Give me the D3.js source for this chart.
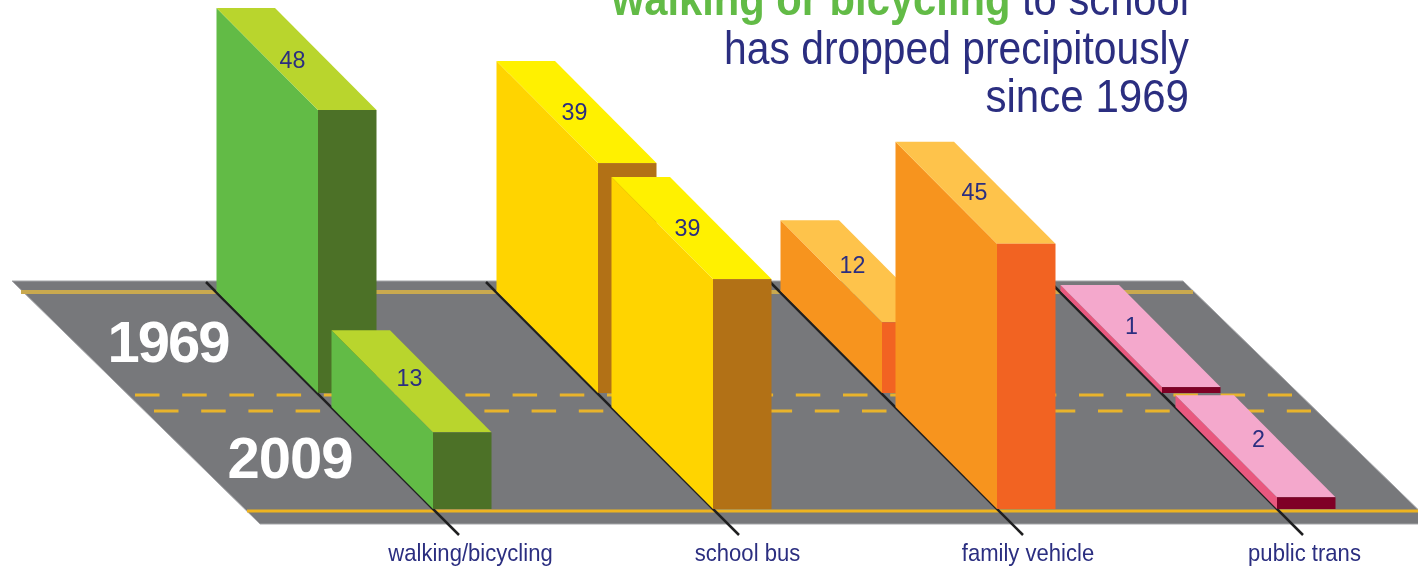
<!DOCTYPE html>
<html>
<head>
<meta charset="utf-8">
<script src="https://cdn.jsdelivr.net/npm/d3@7"></script>
<style>
  html, body { margin: 0; padding: 0; background: #fff; overflow: hidden; }
  svg { display: block; filter: blur(0.5px); }
</style>
</head>
<body>
<div id="chart"></div>
<script>
// Data
const categories = ['walking/bicycling', 'school bus', 'family vehicle', 'public trans'];
const years = ['1969', '2009'];
const values1969 = [48, 39, 12, 1];
const values2009 = [13, 39, 45, 2];

const titleLines = [
    [['walking or bicycling', 'green'], [' to school', 'navy']],
    [['has dropped precipitously', 'navy']],
    [['since 1969', 'navy']]
];

const faceColors = [
    { left: '#62bb46', top: '#b9d52d', right: '#4c7127' },
    { left: '#ffd400', top: '#fff100', right: '#b27116' },
    { left: '#f7941e', top: '#fec34b', right: '#f26322' },
    { left: '#e9587f', top: '#f4a8cc', right: '#7f0026' }
];

const width = 1418, height = 569;
const navy = '#2b2e80', green = '#62bb46';
const font = '"Liberation Sans", sans-serif';

const svg = d3.select('#chart')
    .append('svg')
    .attr('width', width)
    .attr('height', height);

// Scales: x is the front-left corner of a 2009 bar, depth runs along the road
const x = d3.scaleOrdinal().domain(categories).range([433, 713, 997, 1277]);
const labelX = d3.scaleOrdinal().domain(categories).range([470.5, 747.5, 1028, 1304.5]);
const depthX = d3.scaleOrdinal().domain(years).range([-115, 0]);
const depthY = d3.scaleOrdinal().domain(years).range([-116, 0]);
const h = d3.scaleLinear().domain([0, 48]).range([0, 283]);
const groundY = 509;
const barW = 58.5, barDx = 101.5, barDy = 102;

// Road
const road = svg.append('g');
road.append('polygon')
    .attr('points', '12,281 1183,281 1433,524 260,524')
    .attr('fill', '#77787b')
    .attr('stroke', '#a5a6a9')
    .attr('stroke-width', 1);

road.append('line')
    .attr('x1', 21).attr('x2', 1193).attr('y1', 292).attr('y2', 292)
    .attr('stroke', '#c9a94f').attr('stroke-width', 4);

road.append('line')
    .attr('x1', 247).attr('x2', 1418).attr('y1', 511).attr('y2', 511)
    .attr('stroke', '#eeb31f').attr('stroke-width', 3);

// Dashed centre lines
[[135, 395], [154, 411]].forEach(([startX, y]) => {
    road.append('line')
        .attr('x1', startX).attr('x2', startX + 1157).attr('y1', y).attr('y2', y)
        .attr('stroke', '#e8b32c')
        .attr('stroke-width', 3)
        .attr('stroke-dasharray', '24.5 22.7');
});

// Separator under each category
svg.append('g')
    .selectAll('line')
    .data(categories)
    .enter()
    .append('line')
    .attr('x1', d => x(d) - 227)
    .attr('y1', groundY - 227)
    .attr('x2', d => x(d) + 26)
    .attr('y2', groundY + 26)
    .attr('stroke', '#1f1f20')
    .attr('stroke-width', 2.5);

// Build one record per bar, 1969 first so 2009 sits in front
const bars = years.flatMap((year, yi) => categories.map((cat, ci) => ({
    year,
    cat,
    ci,
    yi,
    value: [values1969, values2009][yi][ci]
})));

const pts = arr => arr.map(p => p.join(',')).join(' ');

const barG = svg.append('g')
    .selectAll('g')
    .data(bars)
    .enter()
    .append('g');

// Left side face
barG.append('polygon')
    .attr('fill', d => faceColors[d.ci].left)
    .attr('points', d => {
        const fx = x(d.cat) + depthX(d.year), fy = groundY + depthY(d.year), t = h(d.value);
        return pts([[fx, fy], [fx, fy - t], [fx - barDx, fy - t - barDy], [fx - barDx, fy - barDy]]);
    });

// Top face
barG.append('polygon')
    .attr('fill', d => faceColors[d.ci].top)
    .attr('points', d => {
        const fx = x(d.cat) + depthX(d.year), fy = groundY + depthY(d.year) - h(d.value);
        return pts([[fx, fy], [fx + barW, fy], [fx + barW - barDx, fy - barDy], [fx - barDx, fy - barDy]]);
    });

// Front face
barG.append('rect')
    .attr('fill', d => faceColors[d.ci].right)
    .attr('x', d => x(d.cat) + depthX(d.year))
    .attr('y', d => groundY + depthY(d.year) - h(d.value))
    .attr('width', barW)
    .attr('height', d => h(d.value));

// Value labels on the top faces, the low bars have theirs nudged as in the original
const labelShift = {
    '1969': [[-4, 1], [-2, 0], [-8, -6], [-9, -10]],
    '2009': [[-2, -3], [-4, 0], [-1, -1], [3, -7]]
};

barG.append('text')
    .attr('transform', d => {
        const fx = x(d.cat) + depthX(d.year), fy = groundY + depthY(d.year) - h(d.value);
        const s = labelShift[d.year][d.ci];
        return `translate(${fx + barW / 2 - barDx / 2 + s[0]},${fy - barDy / 2 + 8 + s[1]}) scale(0.97,1)`;
    })
    .attr('text-anchor', 'middle')
    .attr('font-family', font)
    .attr('font-size', 24)
    .attr('fill', navy)
    .text(d => d.value);

// Year labels on the road
svg.append('g')
    .selectAll('text')
    .data(years)
    .enter()
    .append('text')
    .attr('x', d => d === '1969' ? 168 : 290)
    .attr('y', d => 478 + depthY(d))
    .attr('text-anchor', 'middle')
    .attr('font-family', font)
    .attr('font-weight', 'bold')
    .attr('font-size', 58)
    .attr('letter-spacing', d => d === '1969' ? -2 : -1)
    .attr('fill', '#fff')
    .text(d => d);

// Category labels
svg.append('g')
    .selectAll('text')
    .data(categories)
    .enter()
    .append('text')
    .attr('transform', d => `translate(${labelX(d)},561) scale(0.92,1)`)
    .attr('text-anchor', 'middle')
    .attr('font-family', font)
    .attr('font-size', 24)
    .attr('fill', navy)
    .text(d => d);

// Title, right aligned and clipped by the top of the page as in the original
const titleSquash = [0.907, 0.887, 0.915];

const title = svg.append('g')
    .selectAll('text')
    .data(titleLines)
    .enter()
    .append('text')
    .attr('transform', (d, i) => `translate(1189,${15 + i * 48.5}) scale(${titleSquash[i]},1)`)
    .attr('text-anchor', 'end')
    .attr('font-family', font)
    .attr('font-size', 46);

title.selectAll('tspan')
    .data(d => d)
    .enter()
    .append('tspan')
    .attr('fill', d => d[1] === 'green' ? green : navy)
    .attr('font-weight', d => d[1] === 'green' ? 'bold' : 'normal')
    .attr('xml:space', 'preserve')
    .text(d => d[0]);
</script>
</body>
</html>
